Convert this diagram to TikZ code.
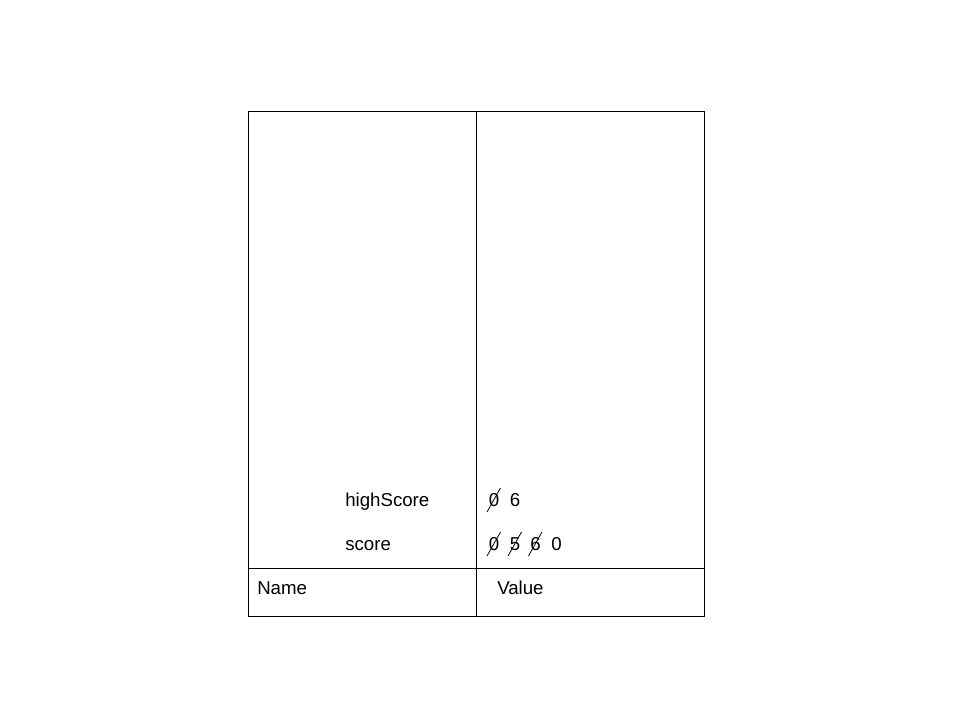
\documentclass[tikz,border=0pt]{standalone}
\usepackage{fontspec}
\setmainfont{Liberation Sans}
\begin{document}
\begin{tikzpicture}[x=0.75pt,y=-0.75pt,
  lbl/.style={anchor=base west,inner sep=0pt,font=\fontsize{14}{16}\selectfont},
  frame/.style={draw=black,line width=0.75pt},
  strike/.style={draw=black,line width=0.6pt}]
\useasboundingbox (0,0) rectangle (960,720);
\draw[frame] (248,112) rectangle (704,616);
\coordinate (mt) at (476,112);
\coordinate (mb) at (476,616);
\coordinate (hl) at (248,568);
\coordinate (hr) at (704,568);
\draw[frame] (mt) -- (mb);
\draw[frame] (hl) -- (hr);
\node[lbl] (hs) at (345,506) {highScore};
\node[lbl] (sc) at (345,550) {score};
\node[lbl] (nm) at (257,594) {Name};
\node[lbl] (vl) at (497,594) {Value};
% highScore values
\node[lbl] (h0) at (488.5,506) {0};
\node[lbl] (h1) at (509.5,506) {6};
% score values
\node[lbl] (s0) at (488.5,550) {0};
\node[lbl] (s1) at (509.5,550) {5};
\node[lbl] (s2) at (530,550) {6};
\node[lbl] (s3) at (551,550) {0};
\foreach \n in {h0,s0,s1,s2}{
  \draw[strike] ([shift={(-1.5,6)}]\n.base west) -- ([shift={(12,-18)}]\n.base west);
}
\end{tikzpicture}
\end{document}
